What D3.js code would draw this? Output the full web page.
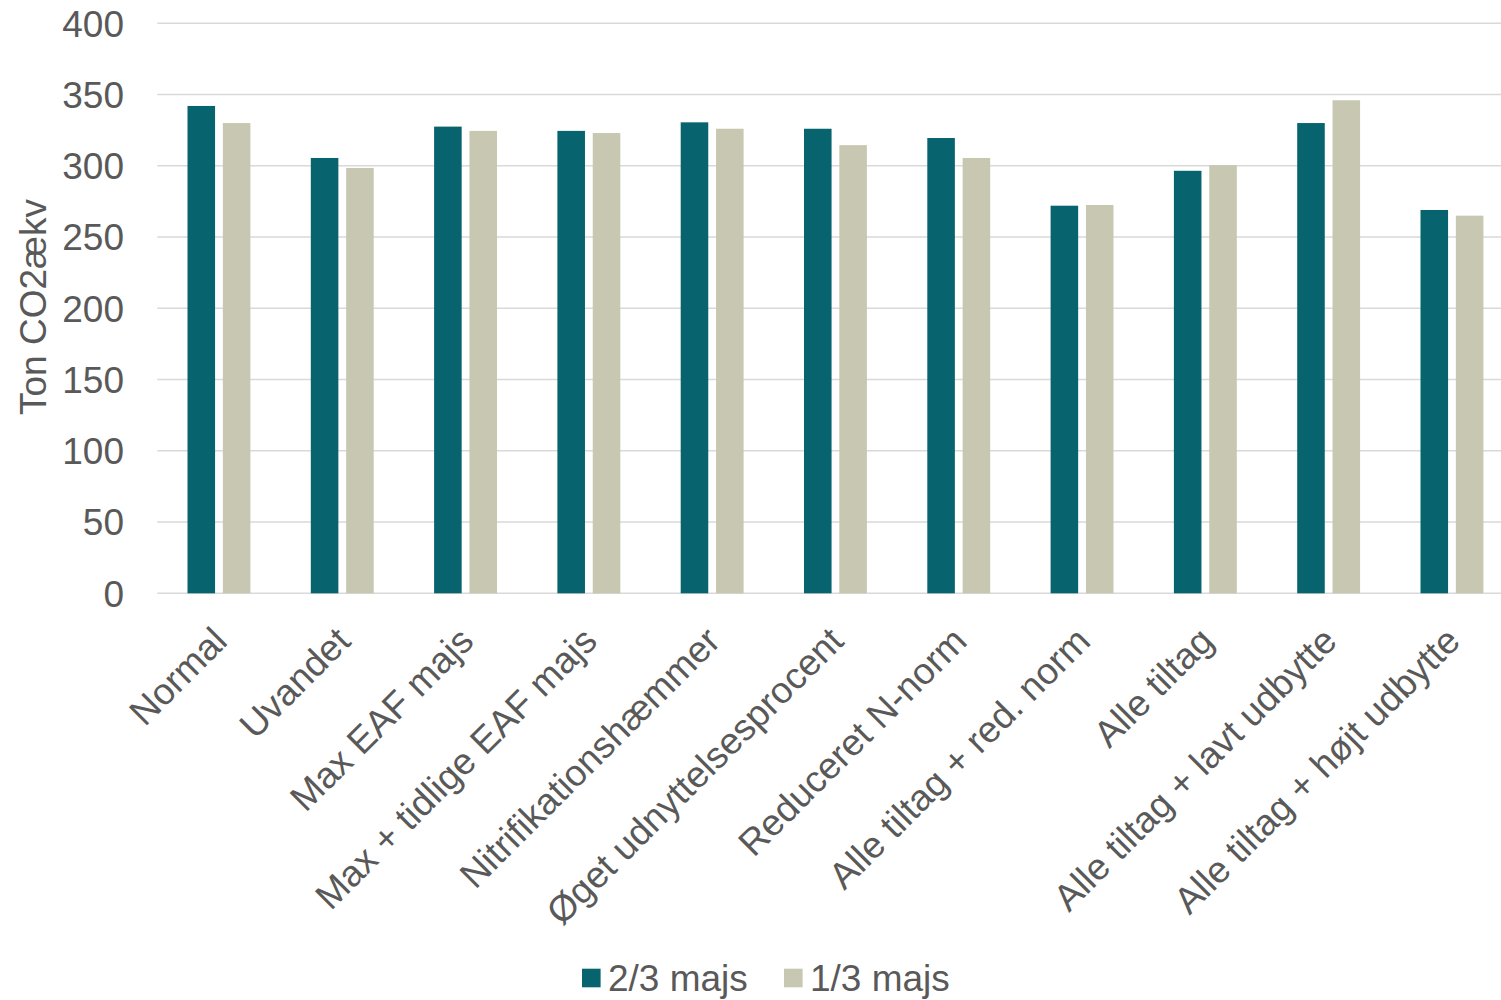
<!DOCTYPE html>
<html lang="da">
<head>
  <meta charset="UTF-8">
  <title>Ton CO2ækv</title>
  <script src="https://d3js.org/d3.v7.min.js"></script>
  <style>
    body { margin: 0; background: #fff; }
    svg { display: block; font-family: "Liberation Sans", Arial, sans-serif; }
    text { fill: #595959; }
  </style>
</head>
<body>
  <div id="chart"></div>
  <script>
    // Data
    const categories = [
      "Normal", "Uvandet", "Max EAF majs", "Max + tidlige EAF majs",
      "Nitrifikationshæmmer", "Øget udnyttelsesprocent", "Reduceret N-norm",
      "Alle tiltag + red. norm", "Alle tiltag", "Alle tiltag + lavt udbytte",
      "Alle tiltag + højt udbytte"
    ];
    const seriesNames = ["2/3 majs", "1/3 majs"];
    const twoThirds = [342, 305.5, 327.5, 324.5, 330.5, 326, 319.5, 272, 296.5, 330, 269];
    const oneThird = [330, 298.5, 324.5, 323, 326, 314.5, 305.5, 272.5, 300.5, 346, 265];
    const yTicks = [0, 50, 100, 150, 200, 250, 300, 350, 400];
    const colors = ["#07646f", "#c8c8b2"];

    const width = 1501, height = 1000;
    const plot = { left: 157.3, right: 1513.6, top: 23.3, bottom: 593.3 };

    const rows = categories.map((c, i) => ({ cat: c, values: [twoThirds[i], oneThird[i]] }));

    const svg = d3.select("#chart").append("svg").attr("width", width).attr("height", height);

    const x0 = d3.scaleBand().domain(categories).range([plot.left, plot.right]);
    const x1 = d3.scaleBand().domain(seriesNames).range([30.2, 93.1]).paddingInner(0.22);
    const y = d3.scaleLinear().domain([0, 400]).range([plot.bottom, plot.top]);

    // gridlines
    svg.append("g")
      .selectAll("line")
      .data(yTicks)
      .join("line")
      .attr("x1", plot.left).attr("x2", width)
      .attr("y1", d => y(d)).attr("y2", d => y(d))
      .attr("stroke", "#d9d9d9")
      .attr("stroke-width", 1.5);

    // y tick labels
    svg.append("g")
      .selectAll("text")
      .data(yTicks)
      .join("text")
      .attr("x", 124)
      .attr("y", d => y(d))
      .attr("dy", "0.36em")
      .attr("text-anchor", "end")
      .style("font-size", "37px")
      .text(d => d);

    // bars
    const groups = svg.append("g")
      .selectAll("g")
      .data(rows)
      .join("g")
      .attr("transform", d => `translate(${x0(d.cat)},0)`);

    groups.selectAll("rect")
      .data(d => d.values.map((v, j) => ({ key: seriesNames[j], value: v, j })))
      .join("rect")
      .attr("x", d => x1(d.key))
      .attr("y", d => y(d.value))
      .attr("width", x1.bandwidth())
      .attr("height", d => y(0) - y(d.value))
      .attr("fill", d => colors[d.j]);

    // category labels
    svg.append("g")
      .selectAll("text")
      .data(categories)
      .join("text")
      .attr("transform", d => `translate(${x0(d) + x0.bandwidth() / 2 + 1},634) rotate(-45)`)
      .attr("dy", "0.35em")
      .attr("text-anchor", "end")
      .style("font-size", "37px")
      .text(d => d);

    // y axis title
    svg.append("text")
      .attr("transform", "translate(46,307) rotate(-90)")
      .attr("text-anchor", "middle")
      .style("font-size", "37px")
      .text("Ton CO2ækv");

    // legend
    const legendX = [582, 784];
    const legend = svg.append("g")
      .selectAll("g")
      .data(seriesNames)
      .join("g")
      .attr("transform", (d, i) => `translate(${legendX[i]},978)`);
    legend.append("rect")
      .attr("x", 0).attr("y", -9.3)
      .attr("width", 18.6).attr("height", 18.6)
      .attr("fill", (d, i) => colors[i]);
    legend.append("text")
      .attr("x", 26)
      .attr("dy", "0.36em")
      .style("font-size", "37px")
      .text(d => d);
  </script>
</body>
</html>
